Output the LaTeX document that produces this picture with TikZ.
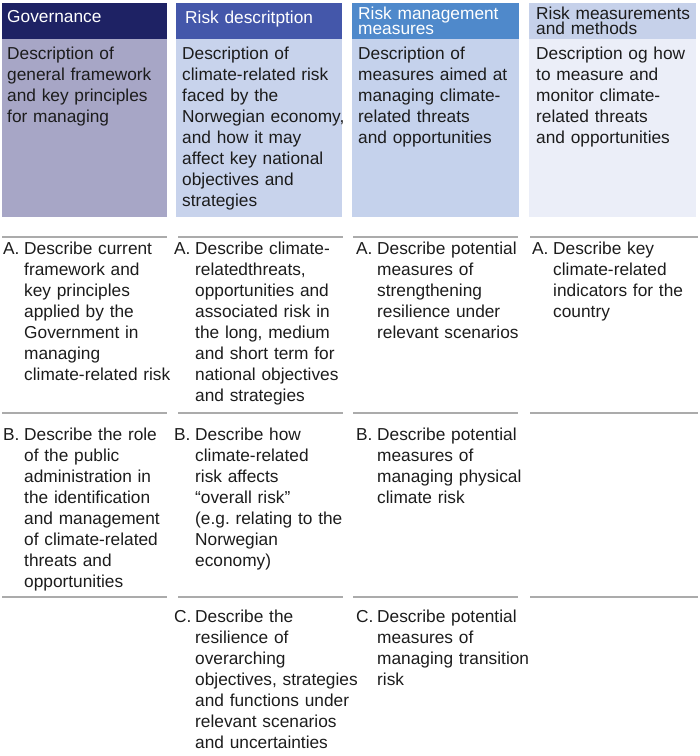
\documentclass[tikz,border=0pt]{standalone}
\usepackage{fontspec}
\setmainfont{Liberation Sans}
\setlength{\parindent}{0pt}
\definecolor{govhead}{HTML}{1E2264}
\definecolor{govbody}{HTML}{A7A6C6}
\definecolor{deschead}{HTML}{4457AA}
\definecolor{descbody}{HTML}{C8D3EC}
\definecolor{manhead}{HTML}{4F89CB}
\definecolor{manbody}{HTML}{C5D2EC}
\definecolor{methead}{HTML}{C6D1EA}
\definecolor{metbody}{HTML}{EBEEF8}
\definecolor{rulegray}{HTML}{ABABAB}
\definecolor{ink}{HTML}{1C1C1C}
\newcommand{\headfont}{\fontsize{17.3}{15}\selectfont\lineskiplimit=-100pt}
\newcommand{\bodyfont}{\fontsize{17.3}{21.1}\selectfont\lineskiplimit=-100pt}
\newlength{\hangw}
\setlength{\hangw}{21pt}
\newcommand{\hangitem}[2]{\hangindent=\hangw\hangafter=1\makebox[\hangw][l]{#1}#2\par}

\begin{document}
\begin{tikzpicture}[x=1pt,y=-1pt,
	head_text/.style={anchor=north west,inner sep=0pt,text width=190pt,align=left,font=\headfont,execute at begin node=\strut},
	body_text/.style={anchor=north west,inner sep=0pt,text width=200pt,align=left,font=\bodyfont,text=ink,execute at begin node=\strut},
	row_rule/.style={draw=rulegray,line width=1.5pt}]

	\useasboundingbox (0,0) rectangle (700,756);

	\fill[govhead] (2,3) rectangle (167,39);
	\fill[govbody] (2,39) rectangle (167,217);
	\fill[deschead] (176,3) rectangle (342,39);
	\fill[descbody] (176,39) rectangle (342,217);
	\fill[manhead] (352,3) rectangle (519,39);
	\fill[manbody] (352,39) rectangle (519,217);
	\fill[methead] (529,3) rectangle (696,39);
	\fill[metbody] (529,39) rectangle (696,217);

	\foreach \y in {237,413,597} {
		\draw[row_rule] (2,\y) -- (167,\y);
		\draw[row_rule] (178,\y) -- (343,\y);
		\draw[row_rule] (353,\y) -- (518,\y);
		\draw[row_rule] (530,\y) -- (698,\y);
	}

	\node[head_text,text=white] (gov_head) at (7,10.5) {Governance};
	\node[head_text,text=white] (risk_head) at (185,10.5) {Risk descritption};
	\node[head_text,text=white] (man_head) at (358,6.5) {Risk management\\measures};
	\node[head_text,text=ink] (met_head) at (536,6.5) {Risk measurements\\and methods};

	\node[body_text] (gov_desc) at (7,44.2) {Description of\\general framework\\and key principles\\for managing};
	\node[body_text] (risk_desc) at (182,44.2) {Description of\\climate-related risk\\faced by the\\Norwegian economy,\\and how it may\\affect key national\\objectives and\\strategies};
	\node[body_text] (man_desc) at (358,44.2) {Description of\\measures aimed at\\managing climate-\\related threats\\and opportunities};
	\node[body_text] (met_desc) at (536,44.2) {Description og how\\to measure and\\monitor climate-\\related threats\\and opportunities};

	\node[body_text] (gov_a) at (3,239.2) {\hangitem{A.}{Describe current\newline framework and\newline key principles\newline applied by the\newline Government in\newline managing\newline climate-related risk}};
	\node[body_text] (gov_b) at (3,425.2) {\hangitem{B.}{Describe the role\newline of the public\newline administration in\newline the identification\newline and management\newline of climate-related\newline threats and\newline opportunities}};

	\node[body_text] (risk_a) at (174,239.2) {\hangitem{A.}{Describe climate-\newline relatedthreats,\newline opportunities and\newline associated risk in\newline the long, medium\newline and short term for\newline national objectives\newline and strategies}};
	\node[body_text] (risk_b) at (174,425.2) {\hangitem{B.}{Describe how\newline climate-related\newline risk affects\newline “overall risk”\newline (e.g.\ relating to the\newline Norwegian\newline economy)}};
	\node[body_text] (risk_c) at (174,607.2) {\hangitem{C.}{Describe the\newline resilience of\newline overarching\newline objectives, strategies\newline and functions under\newline relevant scenarios\newline and uncertainties}};

	\node[body_text] (man_a) at (356,239.2) {\hangitem{A.}{Describe potential\newline measures of\newline strengthening\newline resilience under\newline relevant scenarios}};
	\node[body_text] (man_b) at (356,425.2) {\hangitem{B.}{Describe potential\newline measures of\newline managing physical\newline climate risk}};
	\node[body_text] (man_c) at (356,607.2) {\hangitem{C.}{Describe potential\newline measures of\newline managing transition\newline risk}};

	\node[body_text] (met_a) at (532,239.2) {\hangitem{A.}{Describe key\newline climate-related\newline indicators for the\newline country}};
\end{tikzpicture}
\end{document}
